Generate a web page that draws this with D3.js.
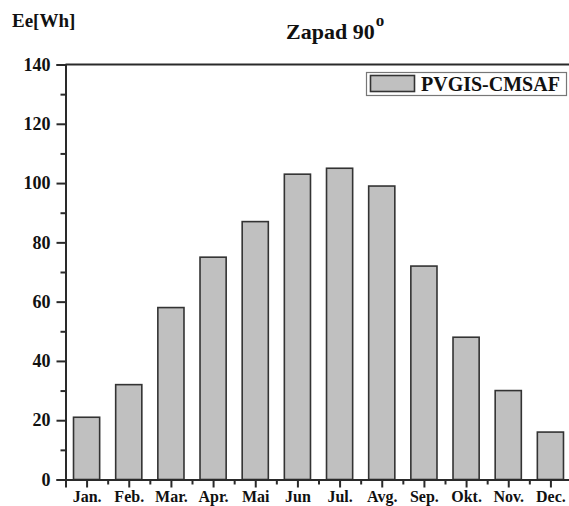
<!DOCTYPE html>
<html>
<head>
<meta charset="utf-8">
<script src="https://cdn.jsdelivr.net/npm/d3@7"></script>
<style>
  html, body { margin: 0; padding: 0; background: #fff; overflow: hidden; }
  svg { display: block; }
  text { font-family: "Liberation Serif", "DejaVu Serif", serif; font-weight: bold; fill: #111; }
</style>
</head>
<body>
<svg id="chart" width="569" height="506"></svg>
<script>
const months = ["Jan.", "Feb.", "Mar.", "Apr.", "Mai", "Jun", "Jul.", "Avg.", "Sep.", "Okt.", "Nov.", "Dec."];
const values = [21, 32, 58, 75, 87, 103, 105, 99, 72, 48, 30, 16];
const yMajorTicks = [0, 20, 40, 60, 80, 100, 120, 140];
const yMinorTicks = [10, 30, 50, 70, 90, 110, 130];
const seriesName = "PVGIS-CMSAF";
const titleText = "Zapad 90";
const titleSup = "o";
const yLabel = "Ee[Wh]";

const svg = d3.select("#chart");
const x = d3.scaleLinear().domain([0.5, 12.5]).range([65.5, 571.5]);
const y = d3.scaleLinear().domain([0, 140]).range([479.5, 64.5]);
const step = x(2) - x(1);
const barW = step * 0.62;
const axisColor = "#2a2a2a";

// bars
svg.append("g").selectAll("rect").data(values).join("rect")
  .attr("x", (d, i) => x(i + 1) - barW / 2)
  .attr("y", d => y(d))
  .attr("width", barW)
  .attr("height", d => y(0) - y(d))
  .attr("fill", "#c0c0c0")
  .attr("stroke", "#333")
  .attr("stroke-width", 1.6);

// frame top
svg.append("line").attr("x1", x(0.5)).attr("x2", 569).attr("y1", y(140)).attr("y2", y(140))
  .attr("stroke", axisColor).attr("stroke-width", 2);

// y axis
const yAxis = svg.append("g").attr("transform", `translate(${x(0.5)},0)`)
  .call(d3.axisLeft(y).tickValues(yMajorTicks).tickSize(9).tickPadding(6).tickFormat(d3.format("d")));
const yMinor = svg.append("g").attr("transform", `translate(${x(0.5)},0)`)
  .call(d3.axisLeft(y).tickValues(yMinorTicks).tickSize(5).tickFormat(""));
yMinor.select(".domain").remove();

// x axis
const xAxis = svg.append("g").attr("transform", `translate(0,${y(0)})`)
  .call(d3.axisBottom(x).tickValues(d3.range(1, 13)).tickSize(8).tickFormat((d) => months[d - 1]));
const xMinor = svg.append("g").attr("transform", `translate(0,${y(0)})`)
  .call(d3.axisBottom(x).tickValues(d3.range(0.5, 13, 1)).tickSize(5).tickFormat(""));
xMinor.select(".domain").remove();

[yAxis, yMinor, xAxis, xMinor].forEach(g => {
  g.selectAll(".domain").attr("stroke", axisColor).attr("stroke-width", 2);
  g.selectAll(".tick line").attr("stroke", axisColor).attr("stroke-width", 2);
});
yAxis.selectAll("text").attr("font-size", 18).attr("font-family", "Liberation Serif").attr("font-weight", "bold").attr("fill", "#111");
xAxis.selectAll("text").attr("font-size", 16).attr("font-family", "Liberation Serif").attr("font-weight", "bold").attr("fill", "#111")
  .attr("y", 22).attr("dy", 0);

// title
const t = svg.append("text").attr("x", 286).attr("y", 39).attr("font-size", 22);
t.append("tspan").text(titleText);
t.append("tspan").attr("font-size", 17).attr("dy", -13).attr("dx", 1).text(titleSup);

// y label
svg.append("text").attr("x", 12).attr("y", 27).attr("font-size", 19).text(yLabel);

// legend
const lg = svg.append("g");
lg.append("rect").attr("x", 366.5).attr("y", 72.5).attr("width", 200).attr("height", 23)
  .attr("fill", "#fff").attr("stroke", "#777").attr("stroke-width", 1.2);
lg.append("rect").attr("x", 370.5).attr("y", 75.5).attr("width", 44).attr("height", 16)
  .attr("fill", "#c0c0c0").attr("stroke", "#333").attr("stroke-width", 1.6);
lg.append("text").attr("x", 421).attr("y", 90.5).attr("font-size", 20).text(seriesName);
</script>
</body>
</html>
